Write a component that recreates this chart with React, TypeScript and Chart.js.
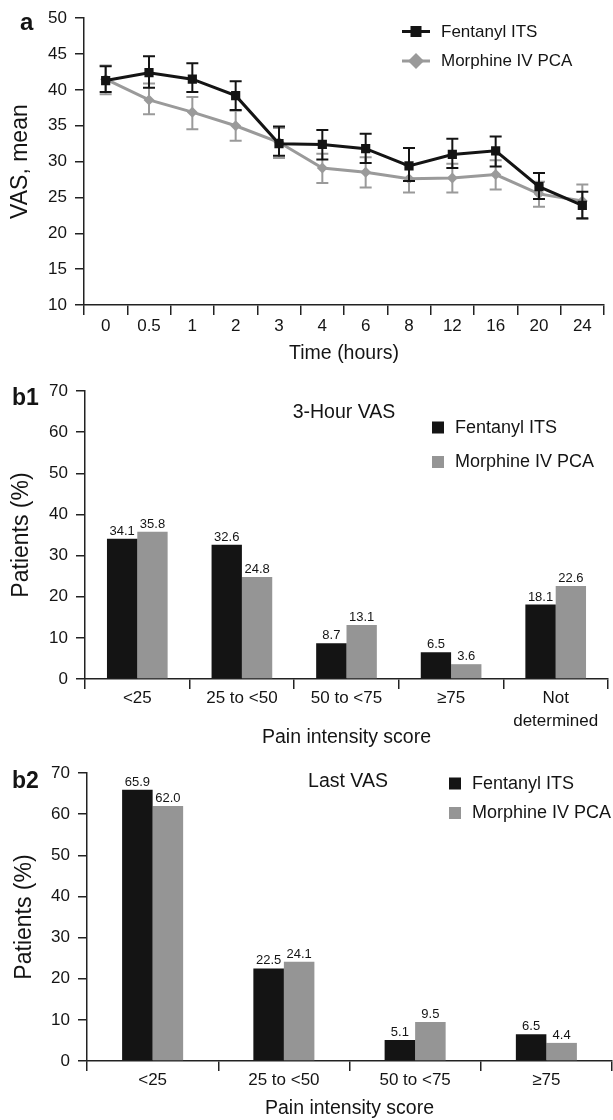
import React, { useEffect, useRef } from "react";
import { Chart, registerables } from "chart.js";

Chart.register(...registerables);

const FONT = '"Liberation Sans", Arial, Helvetica, sans-serif';
const INK = "#141414";
const GREY_LINE = "#9a9a9a";
const GREY_BAR = "#959595";
const AXIS = "#222222";

// ---------- Panel a: VAS over time ----------
const timeLabels = ["0", "0.5", "1", "2", "3", "4", "6", "8", "12", "16", "20", "24"];
const fentanylMean = [41.3, 42.4, 41.5, 39.2, 32.5, 32.4, 31.8, 29.4, 31.0, 31.5, 26.5, 23.9];
const fentanylHigh = [43.3, 44.7, 43.7, 41.2, 34.9, 34.4, 33.9, 31.9, 33.2, 33.5, 28.4, 25.8];
const fentanylLow = [39.7, 40.3, 39.7, 37.2, 30.8, 30.3, 29.8, 27.3, 29.1, 29.3, 24.8, 22.1];
const morphineMean = [41.5, 38.6, 36.9, 35.0, 32.7, 29.1, 28.5, 27.6, 27.7, 28.2, 25.5, 24.5];
const morphineHigh = [43.4, 40.9, 39.0, 37.1, 34.7, 31.1, 30.6, 29.6, 29.7, 30.2, 27.2, 26.8];
const morphineLow = [39.4, 36.6, 34.5, 32.9, 30.5, 27.0, 26.4, 25.7, 25.7, 26.1, 23.7, 22.0];
const vasMin = 10;
const vasMax = 50;
const vasStep = 5;

// ---------- Panel b1: 3-hour VAS ----------
const b1Categories = ["<25", "25 to <50", "50 to <75", "≥75", ["Not", "determined"]];
const b1Fentanyl = [34.1, 32.6, 8.7, 6.5, 18.1];
const b1Morphine = [35.8, 24.8, 13.1, 3.6, 22.6];

// ---------- Panel b2: last VAS ----------
const b2Categories = ["<25", "25 to <50", "50 to <75", "≥75"];
const b2Fentanyl = [65.9, 22.5, 5.1, 6.5];
const b2Morphine = [62.0, 24.1, 9.5, 4.4];
const pctMin = 0;
const pctMax = 70;
const pctStep = 10;

const seriesNames = ["Fentanyl ITS", "Morphine IV PCA"];

function f(size: number, weight: string = "normal", lineHeight: number = 1.2) {
  return { family: FONT, size, weight, lineHeight } as any;
}

function fixedScale(kind: "w" | "h", v: number) {
  return (scale: any) => {
    if (kind === "w") scale.width = v;
    else scale.height = v;
  };
}

const errorBarsBefore = {
  id: "errorBarsBefore",
  beforeDatasetsDraw(chart: any) {
    drawErrors(chart, morphineHigh, morphineLow, GREY_LINE);
  },
};
const errorBarsAfter = {
  id: "errorBarsAfter",
  afterDatasetsDraw(chart: any) {
    drawErrors(chart, fentanylHigh, fentanylLow, INK);
  },
};

function drawErrors(chart: any, hi: number[], lo: number[], color: string) {
  const x = chart.scales.x;
  const y = chart.scales.y;
  const ctx = chart.ctx;
  ctx.save();
  ctx.strokeStyle = color;
  ctx.lineWidth = 2;
  hi.forEach((h, i) => {
    const px = x.getPixelForValue(i);
    const ph = y.getPixelForValue(h);
    const pl = y.getPixelForValue(lo[i]);
    ctx.beginPath();
    ctx.moveTo(px, ph);
    ctx.lineTo(px, pl);
    ctx.moveTo(px - 6, ph);
    ctx.lineTo(px + 6, ph);
    ctx.moveTo(px - 6, pl);
    ctx.lineTo(px + 6, pl);
    ctx.stroke();
  });
  ctx.restore();
}

function text(ctx: any, s: string, x: number, y: number, font: string, align = "left", base = "middle", color = INK) {
  ctx.save();
  ctx.font = font;
  ctx.fillStyle = color;
  ctx.textAlign = align;
  ctx.textBaseline = base;
  ctx.fillText(s, x, y);
  ctx.restore();
}

const lineDecor = {
  id: "lineDecor",
  afterDraw(chart: any) {
    const ctx = chart.ctx;
    text(ctx, "a", 20, 30, `bold 24px ${FONT}`, "left", "alphabetic");
    ctx.save();
    ctx.lineWidth = 3;
    ctx.strokeStyle = INK;
    ctx.beginPath();
    ctx.moveTo(402, 31.5);
    ctx.lineTo(430, 31.5);
    ctx.stroke();
    ctx.fillStyle = INK;
    ctx.fillRect(416 - 5.5, 31.5 - 5.5, 11, 11);
    ctx.strokeStyle = GREY_LINE;
    ctx.beginPath();
    ctx.moveTo(402, 61);
    ctx.lineTo(430, 61);
    ctx.stroke();
    ctx.fillStyle = GREY_LINE;
    ctx.beginPath();
    ctx.moveTo(416 - 8, 61);
    ctx.lineTo(416, 61 - 8);
    ctx.lineTo(416 + 8, 61);
    ctx.lineTo(416, 61 + 8);
    ctx.closePath();
    ctx.fill();
    ctx.restore();
    text(ctx, seriesNames[0], 441, 32, `17px ${FONT}`);
    text(ctx, seriesNames[1], 441, 61.5, `17px ${FONT}`);
  },
};

function barDecor(id: string, tag: string, tagBase: number, title: string, titleX: number, titleY: number, legX: number, legY1: number, legY2: number) {
  return {
    id,
    afterDraw(chart: any) {
      const ctx = chart.ctx;
      chart.data.datasets.forEach((ds: any, di: number) => {
        const meta = chart.getDatasetMeta(di);
        meta.data.forEach((bar: any, i: number) => {
          text(ctx, Number(ds.data[i]).toFixed(1), bar.x, bar.y - 4, `13px ${FONT}`, "center", "alphabetic");
        });
      });
      text(ctx, tag, 12, tagBase, `bold 23px ${FONT}`, "left", "alphabetic");
      text(ctx, title, titleX, titleY, `19.5px ${FONT}`, "center", "middle");
      ctx.save();
      ctx.fillStyle = INK;
      ctx.fillRect(legX, legY1 - 6, 12, 12);
      ctx.fillStyle = GREY_BAR;
      ctx.fillRect(legX, legY2 - 6, 12, 12);
      ctx.restore();
      text(ctx, seriesNames[0], legX + 23, legY1 + 0.5, `18px ${FONT}`);
      text(ctx, seriesNames[1], legX + 23, legY2 + 0.5, `18px ${FONT}`);
    },
  };
}

function axisGrid(tickLength: number) {
  return {
    display: true,
    drawOnChartArea: false,
    drawTicks: true,
    tickLength,
    color: AXIS,
    lineWidth: 1.5,
  };
}
const border = { display: true, color: AXIS, width: 1.5 };

function lineConfig(): any {
  return {
    type: "line",
    data: {
      labels: timeLabels,
      datasets: [
        {
          label: seriesNames[0],
          data: fentanylMean,
          borderColor: INK,
          backgroundColor: INK,
          borderWidth: 3,
          pointStyle: "rect",
          pointRadius: 6.5,
          pointBorderWidth: 0,
        },
        {
          label: seriesNames[1],
          data: morphineMean,
          borderColor: GREY_LINE,
          backgroundColor: GREY_LINE,
          borderWidth: 3,
          pointStyle: "rectRot",
          pointRadius: 5.5,
          pointBorderWidth: 0,
        },
      ],
    },
    options: {
      responsive: false,
      animation: false,
      layout: { padding: { left: 0, top: 16, right: 9, bottom: 0 } },
      plugins: { legend: { display: false }, tooltip: { enabled: false } },
      scales: {
        x: {
          offset: true,
          grid: { ...axisGrid(10), offset: true },
          border,
          ticks: { font: f(17), color: INK, padding: 1, maxRotation: 0, autoSkip: false },
          title: { display: true, text: "Time (hours)", font: f(19.5), color: INK, padding: { top: 0, bottom: 0 } },
          afterFit: fixedScale("h", 60),
        },
        y: {
          min: vasMin,
          max: vasMax,
          grid: axisGrid(9),
          border,
          ticks: { stepSize: vasStep, font: f(17), color: INK, padding: 8 },
          title: { display: true, text: "VAS, mean", font: f(23), color: INK, padding: { top: 7, bottom: 0 } },
          afterFit: fixedScale("w", 84),
        },
      },
    },
    plugins: [errorBarsBefore, errorBarsAfter, lineDecor],
  };
}

function barConfig(cats: any[], fen: number[], mor: number[], catPct: number, pad: any, yWidth: number, xHeight: number, yTitlePad: number, tickPad: number, tickLH: number, decor: any): any {
  return {
    type: "bar",
    data: {
      labels: cats,
      datasets: [
        { label: seriesNames[0], data: fen, backgroundColor: INK, borderWidth: 0 },
        { label: seriesNames[1], data: mor, backgroundColor: GREY_BAR, borderWidth: 0 },
      ],
    },
    options: {
      responsive: false,
      animation: false,
      layout: { padding: pad },
      datasets: { bar: { categoryPercentage: catPct, barPercentage: 1 } },
      plugins: { legend: { display: false }, tooltip: { enabled: false } },
      scales: {
        x: {
          grid: { ...axisGrid(10), offset: true },
          border,
          ticks: { font: f(17, "normal", tickLH), color: INK, padding: tickPad, maxRotation: 0, autoSkip: false },
          title: { display: true, text: "Pain intensity score", font: f(19.5), color: INK, padding: { top: 0, bottom: 0 } },
          afterFit: fixedScale("h", xHeight),
        },
        y: {
          min: pctMin,
          max: pctMax,
          grid: axisGrid(9),
          border,
          ticks: { stepSize: pctStep, font: f(17), color: INK, padding: 8 },
          title: { display: true, text: "Patients (%)", font: f(23), color: INK, padding: { top: yTitlePad, bottom: 0 } },
          afterFit: fixedScale("w", yWidth),
        },
      },
    },
    plugins: [decor],
  };
}

function ChartBox({ top, height, make }: { top: number; height: number; make: () => any }) {
  const ref = useRef<HTMLCanvasElement | null>(null);
  useEffect(() => {
    if (!ref.current) return;
    const chart = new Chart(ref.current, make());
    return () => chart.destroy();
  }, []);
  return (
    <div style={{ position: "absolute", left: 0, top, width: 613, height }}>
      <canvas ref={ref} width={613} height={height} style={{ width: 613, height, display: "block" }} />
    </div>
  );
}

export default function App() {
  return (
    <div style={{ position: "absolute", left: 0, top: 0, width: 613, height: 1120, background: "#fff" }}>
      <ChartBox top={0} height={365} make={lineConfig} />
      <ChartBox
        top={365}
        height={384}
        make={() =>
          barConfig(
            b1Categories,
            b1Fentanyl,
            b1Morphine,
            0.58,
            { left: 0, top: 26, right: 5, bottom: 0 },
            85,
            70,
            8,
            -3,
            1.4,
            barDecor("b1Decor", "b1", 40, "3-Hour VAS", 344, 48, 432, 62.5, 97)
          )
        }
      />
      <ChartBox
        top={749}
        height={371}
        make={() =>
          barConfig(
            b2Categories,
            b2Fentanyl,
            b2Morphine,
            0.465,
            { left: 0, top: 24, right: 1, bottom: 0 },
            87,
            59,
            11,
            -1,
            1.2,
            barDecor("b2Decor", "b2", 39, "Last VAS", 348, 33, 449, 34.5, 64)
          )
        }
      />
    </div>
  );
}
